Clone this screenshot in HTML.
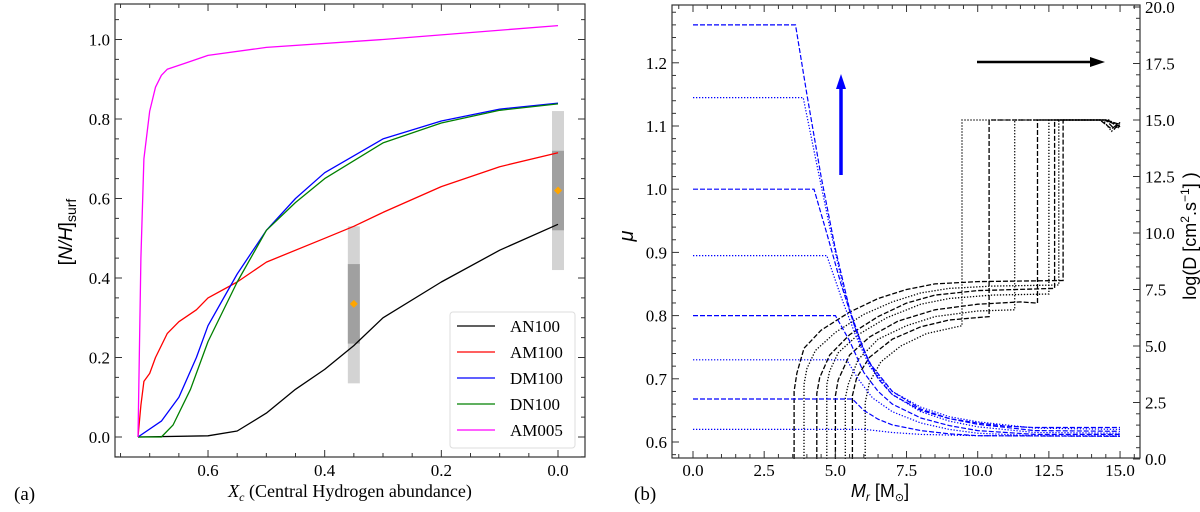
<!DOCTYPE html>
<html><head><meta charset="utf-8"><style>
html,body{margin:0;padding:0;background:#fff;width:1200px;height:512px;overflow:hidden}
svg text{font-family:"Liberation Serif",serif;fill:#000}
svg text.sans{font-family:"Liberation Sans",sans-serif}
</style></head><body>
<svg id="chart" width="1200" height="512" viewBox="0 0 1200 512" xmlns="http://www.w3.org/2000/svg"></svg>
<script>
// ---------- Panel (a) data ----------
const seriesNames = ["AN100","AM100","DM100","DN100","AM005"];
const seriesColors = ["#000000","#ff0000","#0000ff","#008000","#ff00ff"];
const xcAN100 = [0.72,0.6,0.55,0.5,0.45,0.4,0.35,0.3,0.2,0.1,0.0];
const yAN100  = [0,0.003,0.015,0.06,0.12,0.17,0.23,0.3,0.39,0.47,0.535];
const xcAM100 = [0.72,0.715,0.71,0.70,0.69,0.67,0.65,0.62,0.6,0.55,0.5,0.4,0.35,0.3,0.2,0.1,0.0];
const yAM100  = [0,0.08,0.14,0.16,0.2,0.26,0.29,0.32,0.35,0.39,0.44,0.5,0.53,0.565,0.63,0.68,0.715];
const xcDM100 = [0.72,0.68,0.65,0.62,0.6,0.55,0.5,0.45,0.4,0.3,0.2,0.1,0.0];
const yDM100  = [0,0.04,0.1,0.2,0.28,0.41,0.52,0.6,0.665,0.75,0.795,0.825,0.84];
const xcDN100 = [0.72,0.68,0.66,0.63,0.6,0.55,0.5,0.45,0.4,0.3,0.2,0.1,0.0];
const yDN100  = [0,0,0.03,0.12,0.24,0.39,0.52,0.59,0.65,0.74,0.79,0.822,0.838];
const xcAM005 = [0.72,0.715,0.71,0.70,0.69,0.68,0.67,0.64,0.6,0.5,0.3,0.0];
const yAM005  = [0,0.45,0.7,0.82,0.88,0.91,0.925,0.94,0.96,0.98,1.0,1.035];
const obsX = [0.35,0.0];
const obsVal = [0.335,0.62];
const obsInnerLo = [0.235,0.52], obsInnerHi = [0.435,0.72];
const obsOuterLo = [0.135,0.42], obsOuterHi = [0.53,0.82];
const aXTicks = [0.6,0.4,0.2,0.0];
const aYTicks = [0.0,0.2,0.4,0.6,0.8,1.0];

// ---------- Panel (b) data ----------
const muStyles = ["dash","dot","dash","dot","dash","dot","dash","dot"];
const mu1 = [[0,1.26],[3.6,1.26],[4.0,1.15],[4.5,1.02],[5,0.905],[5.5,0.81],[6,0.745],[6.5,0.7],[7,0.675],[8,0.65],[9,0.637],[10,0.63],[11,0.625],[12,0.623],[15,0.623]];
const mu2 = [[0,1.145],[3.87,1.145],[4.3,1.05],[4.8,0.94],[5.3,0.84],[5.8,0.765],[6.3,0.715],[7,0.68],[8,0.655],[9,0.64],[10,0.632],[12,0.622],[15,0.62]];
const mu3 = [[0,1.0],[4.25,1.0],[4.7,0.93],[5.2,0.85],[5.7,0.78],[6.2,0.725],[7,0.68],[8,0.652],[9,0.637],[10,0.628],[12,0.618],[15,0.617]];
const mu4 = [[0,0.895],[4.7,0.895],[5.2,0.83],[5.7,0.77],[6.2,0.72],[7,0.675],[8,0.648],[9,0.633],[10,0.624],[12,0.615],[15,0.614]];
const mu5 = [[0,0.8],[5.0,0.8],[5.5,0.76],[6,0.71],[6.5,0.68],[7,0.66],[8,0.638],[9,0.626],[10,0.618],[12,0.612],[15,0.612]];
const mu6 = [[0,0.73],[5.4,0.73],[5.8,0.7],[6.3,0.67],[7,0.648],[8,0.63],[9,0.62],[10,0.614],[12,0.61],[15,0.61]];
const mu7 = [[0,0.668],[5.6,0.668],[6,0.65],[6.5,0.636],[7,0.627],[8,0.618],[9,0.613],[10,0.61],[15,0.609]];
const mu8 = [[0,0.62],[6.05,0.62],[7,0.615],[8,0.612],[10,0.61],[15,0.609]];
const muSeries = [mu1,mu2,mu3,mu4,mu5,mu6,mu7,mu8];
const d1 = [[3.55,0],[3.55,3.0],[3.65,3.8],[3.9,4.9],[4.5,5.7],[5.5,6.5],[6.5,7.1],[7.5,7.5],[8.5,7.75],[10,7.85],[13.0,7.9],[13.0,15],[14.3,15],[14.7,14.6],[14.9,14.8],[15,14.7]];
const d2 = [[3.9,0],[3.9,3.3],[4.0,4.0],[4.3,4.8],[5.0,5.6],[6,6.4],[7,6.95],[8,7.35],[9,7.55],[10.5,7.65],[12.85,7.7],[12.85,15],[14.4,15],[14.7,14.5],[15,14.8]];
const d3 = [[4.35,0],[4.35,2.9],[4.45,3.6],[4.8,4.6],[5.5,5.5],[6.5,6.3],[7.5,6.9],[8.5,7.25],[10,7.45],[12.7,7.55],[12.7,15],[14.5,15],[14.8,14.6],[15,14.9]];
const d4 = [[4.7,0],[4.7,3.3],[4.8,3.9],[5.1,4.7],[5.8,5.5],[6.8,6.25],[8,6.85],[9,7.1],[10.5,7.25],[12.5,7.3],[12.5,15],[14.6,15],[15,14.7]];
const d5 = [[5.0,0],[5.0,2.8],[5.1,3.5],[5.5,4.6],[6.2,5.4],[7.2,6.1],[8.5,6.6],[10,6.85],[11.5,6.95],[12.1,6.9],[12.1,15],[14.5,15],[15,14.8]];
const d6 = [[5.35,0],[5.35,2.7],[5.45,3.3],[5.8,4.4],[6.5,5.3],[7.5,5.9],[8.5,6.3],[10,6.55],[11.3,6.6],[11.3,15],[14.6,15],[15,14.6]];
const d7 = [[5.6,0],[5.6,2.8],[5.75,3.6],[6.2,4.5],[7,5.3],[8,5.85],[9,6.15],[10.4,6.3],[10.4,15],[14.5,15],[15,14.7]];
const d8 = [[6.05,0],[6.05,2.5],[6.2,3.4],[6.6,4.3],[7.3,5.0],[8.2,5.55],[9.45,5.9],[9.45,15],[14.4,15],[15,14.8]];
const dSeries = [d1,d2,d3,d4,d5,d6,d7,d8];
const bXTicks = [0,2.5,5,7.5,10,12.5,15];
const bYTicks = [0.6,0.7,0.8,0.9,1.0,1.1,1.2];
const bY2Ticks = [0,2.5,5,7.5,10,12.5,15,17.5,20];

const NS="http://www.w3.org/2000/svg";
const svg=document.getElementById('chart');
function mk(tag,attrs,parent){const e=document.createElementNS(NS,tag);for(const k in attrs)e.setAttribute(k,attrs[k]);(parent||svg).appendChild(e);return e;}

// ---------- Panel (a) ----------
const A={l:115,r:585,t:4,b:457};
const ax=v=>558-v*583.3;
const ay=v=>437-v*397.5;
const gA=mk('g',{});


for(let i=0;i<obsX.length;i++){
  const o=mk('rect',{x:ax(obsX[i])-6,y:ay(obsOuterHi[i]),width:12,height:ay(obsOuterLo[i])-ay(obsOuterHi[i]),fill:'#d3d3d3'},gA);
  
  
  const n=mk('rect',{x:ax(obsX[i])-6,y:ay(obsInnerHi[i]),width:12,height:ay(obsInnerLo[i])-ay(obsInnerHi[i]),fill:'#a0a0a0'},gA);
  
  
}
const aX=[xcAN100,xcAM100,xcDM100,xcDN100,xcAM005];
const aY=[yAN100,yAM100,yDM100,yDN100,yAM005];
for(let s=0;s<5;s++){
  const p=aX[s].map((x,i)=>ax(x).toFixed(1)+','+ay(aY[s][i]).toFixed(1)).join(' ');
  const l=mk('polyline',{points:p,fill:'none',stroke:seriesColors[s],'stroke-width':1.3,'stroke-linejoin':'round'},gA);
  
  
}
for(let i=0;i<obsX.length;i++){
  const cx=ax(obsX[i]),cy=ay(obsVal[i]);
  const d=mk('polygon',{points:`${cx},${cy-4} ${cx+4},${cy} ${cx},${cy+4} ${cx-4},${cy}`,fill:'#ffa500'},gA);
  
  
}
mk('rect',{x:A.l,y:A.t,width:A.r-A.l,height:A.b-A.t,fill:'none',stroke:'#333','stroke-width':1.2},gA);
for(let v=0.75;v>=-0.04;v-=0.05){const x=ax(v);const maj=Math.abs(Math.round(v*5)-v*5)<1e-6;const L=maj?7:4;
  mk('line',{x1:x,y1:A.b,x2:x,y2:A.b-L,stroke:'#333'},gA);mk('line',{x1:x,y1:A.t,x2:x,y2:A.t+L,stroke:'#333'},gA);}
for(let v=-0.05;v<=1.09;v+=0.05){const y=ay(v);const maj=Math.abs(Math.round(v*5)-v*5)<1e-6;const L=maj?7:4;
  mk('line',{x1:A.l,y1:y,x2:A.l+L,y2:y,stroke:'#333'},gA);mk('line',{x1:A.r,y1:y,x2:A.r-L,y2:y,stroke:'#333'},gA);}
aXTicks.forEach(v=>{const t=mk('text',{x:ax(v),y:476,'text-anchor':'middle','font-size':17},gA);t.textContent=v.toFixed(1);
  });
aYTicks.forEach(v=>{const t=mk('text',{x:110,y:ay(v)+6,'text-anchor':'end','font-size':17},gA);t.textContent=v.toFixed(1);
  });
const lg=mk('g',{},gA);


mk('rect',{x:450,y:312,width:125,height:136,rx:3,fill:'#fff',stroke:'#ddd'},lg);
seriesNames.forEach((n,i)=>{const y=326+i*26;
  const e=mk('g',{},lg);
  
  
  mk('line',{x1:457,y1:y,x2:495,y2:y,stroke:seriesColors[i],'stroke-width':1.3},e);
  const t=mk('text',{x:510,y:y+6,'font-size':17},e);t.textContent=n;});

const yl=mk('text',{x:0,y:0,'font-size':19,transform:'translate(72,232) rotate(-90)','text-anchor':'middle','class':'sans'});

yl.innerHTML='[<tspan font-style="italic">N/H</tspan>]<tspan font-size="14" dy="4">surf</tspan>';
const xl=mk('text',{x:350,y:497,'font-size':18,'text-anchor':'middle'});

xl.innerHTML='<tspan font-style="italic">X</tspan><tspan font-size="12" dy="4" font-style="italic">c</tspan><tspan dy="-4"> (Central Hydrogen abundance)</tspan>';
const pa=mk('text',{x:14,y:500,'font-size':19});pa.textContent='(a)';


// ---------- Panel (b) ----------
const B={l:672,r:1140,t:5,b:458};
const bx=v=>693+v*28.47;
const by=v=>442-(v-0.6)*632;
const by2=v=>459-v*22.6;
const g=mk('g',{});


dSeries.forEach((s,i)=>{
  const l=mk('polyline',{points:s.map(p=>bx(p[0]).toFixed(1)+','+by2(p[1]).toFixed(1)).join(' '),fill:'none',stroke:'#000','stroke-width':1.3,'stroke-dasharray':muStyles[i]=='dash'?'5,2':'1.3,1.7'},g);
  
  
});
muSeries.forEach((s,i)=>{
  const l=mk('polyline',{points:s.map(p=>bx(p[0]).toFixed(1)+','+by(p[1]).toFixed(1)).join(' '),fill:'none',stroke:'#0000ff','stroke-width':1.2,'stroke-dasharray':muStyles[i]=='dash'?'5,2':'1.3,1.7'},g);
  
  
});
const a1=mk('g',{},g);
mk('line',{x1:841,y1:175,x2:841,y2:88,stroke:'#0000ff','stroke-width':3.5},a1);
mk('polygon',{points:'841,74 836,89 846,89',fill:'#0000ff'},a1);
const a2=mk('g',{},g);
mk('line',{x1:977,y1:62,x2:1092,y2:62,stroke:'#000','stroke-width':2.5},a2);
mk('polygon',{points:'1105,62 1090,57 1090,67',fill:'#000'},a2);
mk('rect',{x:B.l,y:B.t,width:B.r-B.l,height:B.b-B.t,fill:'none',stroke:'#333','stroke-width':1.2},g);
for(let v=-0.5;v<=15.6;v+=0.5){const x=bx(v);const maj=Math.abs(v/2.5-Math.round(v/2.5))<1e-6;const L=maj?7:4;
  mk('line',{x1:x,y1:B.b,x2:x,y2:B.b-L,stroke:'#333'},g);mk('line',{x1:x,y1:B.t,x2:x,y2:B.t+L,stroke:'#333'},g);}
for(let v=0.58;v<=1.29;v+=0.02){const y=by(v);const maj=Math.abs(v*10-Math.round(v*10))<1e-6;const L=maj?7:4;
  mk('line',{x1:B.l,y1:y,x2:B.l+L,y2:y,stroke:'#333'},g);}
for(let v=0;v<=20;v+=0.5){const y=by2(v);const maj=Math.abs(v/2.5-Math.round(v/2.5))<1e-6;const L=maj?7:4;
  mk('line',{x1:B.r,y1:y,x2:B.r-L,y2:y,stroke:'#333'},g);}
bXTicks.forEach(v=>{const t=mk('text',{x:bx(v),y:476,'text-anchor':'middle','font-size':17},g);t.textContent=v.toFixed(1);
  });
bYTicks.forEach(v=>{const t=mk('text',{x:667,y:by(v)+6,'text-anchor':'end','font-size':17},g);t.textContent=v.toFixed(1);
  });
bY2Ticks.forEach(v=>{const t=mk('text',{x:1145,y:by2(v)+6,'font-size':17},g);t.textContent=v.toFixed(1);
  });
const mu=mk('text',{x:0,y:0,'font-size':20,transform:'translate(633,236) rotate(-90)','text-anchor':'middle','font-style':'italic','class':'sans'});
mu.textContent='μ';
const xb=mk('text',{x:880,y:497,'font-size':18,'text-anchor':'middle','class':'sans'});

xb.innerHTML='<tspan font-style="italic">M</tspan><tspan font-size="12" dy="4" font-style="italic">r</tspan><tspan dy="-4"> [M</tspan><tspan font-size="11" dy="4">⊙</tspan><tspan dy="-4">]</tspan>';
const y2=mk('text',{x:0,y:0,'font-size':18,transform:'translate(1196,236) rotate(-90)','text-anchor':'middle','class':'sans'});

y2.innerHTML='log(D [cm<tspan font-size="12" dy="-7">2</tspan><tspan dy="7">.s</tspan><tspan font-size="12" dy="-7">−1</tspan><tspan dy="7">] )</tspan>';
const pb=mk('text',{x:634,y:500,'font-size':19});pb.textContent='(b)';

</script>
</body></html>
